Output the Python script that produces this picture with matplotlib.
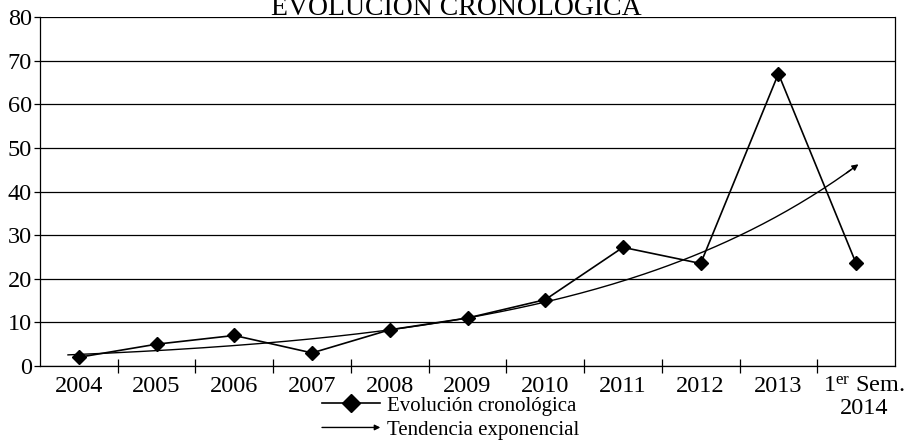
import numpy as np
import matplotlib
matplotlib.use("Agg")
import matplotlib.pyplot as plt
from matplotlib.lines import Line2D
from matplotlib.patches import FancyArrowPatch
from matplotlib.legend_handler import HandlerBase
from matplotlib.transforms import ScaledTranslation

plt.rcParams['font.family'] = ['Liberation Serif', 'DejaVu Serif']
plt.rcParams['mathtext.fontset'] = 'custom'
plt.rcParams['mathtext.rm'] = 'Liberation Serif'
plt.rcParams['mathtext.it'] = 'Liberation Serif:italic'

categories = ["2004", "2005", "2006", "2007", "2008", "2009", "2010",
              "2011", "2012", "2013", "1$^{\\mathrm{er}}$ Sem.\n2014"]
values = [2, 5, 7, 3, 8.3, 11, 15.2, 27.2, 23.5, 67, 23.5]
yticks = [0, 10, 20, 30, 40, 50, 60, 70, 80]
title = "EVOLUCIÓN CRONOLÓGICA"
legend_labels = ["Evolución cronológica", "Tendencia exponencial"]

fig = plt.figure(figsize=(9.07, 4.43), dpi=100)
ax = fig.add_axes([40/907, 1-366/443, (895-40)/907, (366-17)/443])

x = np.arange(len(values))
ax.plot(x, values, color='black', lw=1.2, marker='D', markersize=7,
        markerfacecolor='black', zorder=4)

# exponential trend (least squares on log values)
b, a = np.polyfit(x, np.log(values), 1)
xt = np.linspace(-0.14, 10.03, 200)
yt = np.exp(a + b * xt)
ax.plot(xt[:-2], yt[:-2], color='black', lw=1.0, zorder=3)
ax.annotate('', xy=(xt[-1], yt[-1]), xytext=(xt[-4], yt[-4]),
            arrowprops=dict(arrowstyle='-|>', color='black', lw=1.0,
                            mutation_scale=9, shrinkA=0, shrinkB=0))

ax.set_xlim(-0.5, len(values) - 0.5)
ax.set_ylim(0, 80)
ax.set_yticks(yticks)
ax.set_yticklabels([str(v) for v in yticks], fontsize=17.5)
ax.yaxis.grid(True, color='black', lw=0.9)
ax.set_axisbelow(True)
ax.tick_params(axis='y', direction='out', length=4, width=0.9, pad=2)

ax.set_xticks(x)
ax.set_xticklabels(categories, fontsize=17.5, linespacing=1.05)
ax.tick_params(axis='x', which='major', length=0, pad=7)
ax.set_xticks(np.arange(0.5, len(values) - 1, 1.0), minor=True)
ax.tick_params(axis='x', which='minor', direction='inout', length=10, width=0.9)
last = ax.get_xticklabels()[-1]
last.set_transform(last.get_transform() + ScaledTranslation(8/100, 0, fig.dpi_scale_trans))

for s in ['left', 'right', 'bottom', 'top']:
    ax.spines[s].set_linewidth(0.9)
ax.spines['top'].set_visible(False)

fig.text(456/907, 1 - 15/443, title, ha='center', va='baseline', fontsize=20)


class HandlerArrow(HandlerBase):
    def create_artists(self, legend, orig_handle, xdescent, ydescent,
                       width, height, fontsize, trans):
        y = height / 2 - ydescent
        arr = FancyArrowPatch((-xdescent, y), (width - xdescent, y),
                              arrowstyle='-|>', mutation_scale=8, lw=1.0,
                              color='black', transform=trans,
                              shrinkA=0, shrinkB=0)
        return [arr]


h1 = Line2D([], [], color='black', lw=1.2, marker='D', markersize=9,
            markerfacecolor='black')
h2 = object()
leg = fig.legend([h1, h2], legend_labels, loc='upper left',
                 bbox_to_anchor=(322/907, 1 - 396/443), frameon=False,
                 fontsize=15, handlelength=2.8, handletextpad=0.3,
                 labelspacing=0.22, borderpad=0, borderaxespad=0,
                 handler_map={h2: HandlerArrow()})

fig.savefig("out.png", dpi=100)
